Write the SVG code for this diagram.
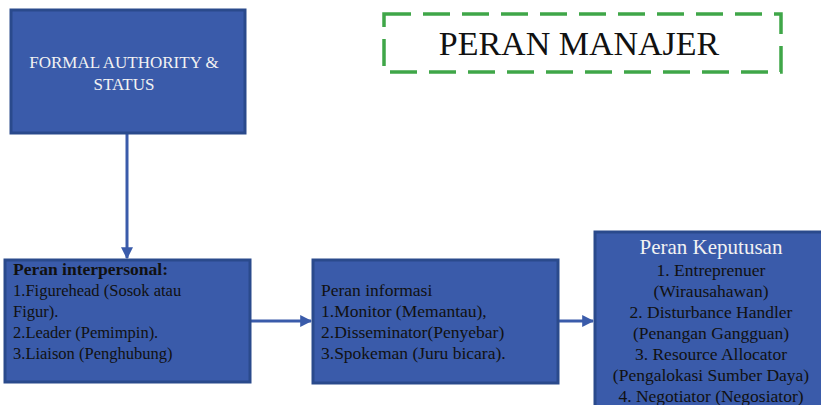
<svg xmlns="http://www.w3.org/2000/svg" width="821" height="405" viewBox="0 0 821 405">
<defs>
<style>
.box{fill:#3A5BAA;stroke:#2A4A8C;stroke-width:3}
.t{font-family:"Liberation Serif","Times New Roman",serif;font-size:16.5px;fill:#111}
.w{fill:#F2F2F2}
.c{text-anchor:middle}
.conn{stroke:#3A5BAA;stroke-width:3;fill:none}
</style>
<marker id="ah" viewBox="0 0 10 10" refX="9" refY="5" markerWidth="4" markerHeight="4" orient="auto" markerUnits="strokeWidth">
<path d="M0,0 L10,5 L0,10 z" fill="#3A5BAA"/>
</marker>
</defs>
<rect width="821" height="405" fill="#ffffff"/>
<g id="title">
<rect x="384" y="14" width="397" height="58" fill="none" stroke="#3FA648" stroke-width="3.5" stroke-dasharray="27 12"/>
<text x="579" y="55" font-family="'Liberation Serif','Times New Roman',serif" font-size="34" fill="#111" text-anchor="middle">PERAN MANAJER</text>
</g>
<g id="connectors">
<line class="conn" x1="127" y1="133" x2="127" y2="258" marker-end="url(#ah)"/>
<line class="conn" x1="250" y1="321" x2="311" y2="321" marker-end="url(#ah)"/>
<line class="conn" x1="558" y1="321" x2="593" y2="321" marker-end="url(#ah)"/>
</g>
<g id="formal">
<rect class="box" x="11" y="10" width="234" height="123"/>
<text class="t w c" x="124" y="68" style="font-size:17px">FORMAL AUTHORITY &amp;</text>
<text class="t w c" x="124" y="90" style="font-size:17px">STATUS</text>
</g>
<g id="interpersonal">
<rect class="box" x="5" y="260" width="245" height="122"/>
<text class="t" x="13" y="275" font-weight="bold" style="font-size:17.5px">Peran interpersonal:</text>
<text class="t" x="13" y="296">1.Figurehead (Sosok atau</text>
<text class="t" x="13" y="317">Figur).</text>
<text class="t" x="13" y="338">2.Leader (Pemimpin).</text>
<text class="t" x="13" y="359">3.Liaison (Penghubung)</text>
</g>
<g id="informasi">
<rect class="box" x="313" y="260" width="245" height="123"/>
<text class="t" x="321" y="296" style="font-size:17.5px">Peran informasi</text>
<text class="t" x="321" y="317" style="font-size:17.5px">1.Monitor (Memantau),</text>
<text class="t" x="321" y="338" style="font-size:17.5px">2.Disseminator(Penyebar)</text>
<text class="t" x="321" y="359" style="font-size:17.5px">3.Spokeman (Juru bicara).</text>
</g>
<g id="keputusan">
<rect class="box" x="595" y="232" width="240" height="190"/>
<text class="t w c" x="711" y="254" style="font-size:21px">Peran Keputusan</text>
<text class="t c" x="711" y="276" style="font-size:17.5px">1. Entreprenuer</text>
<text class="t c" x="711" y="297" style="font-size:17.5px">(Wirausahawan)</text>
<text class="t c" x="711" y="318" style="font-size:17.5px">2. Disturbance Handler</text>
<text class="t c" x="711" y="339" style="font-size:17.5px">(Penangan Gangguan)</text>
<text class="t c" x="711" y="360" style="font-size:17.5px">3. Resource Allocator</text>
<text class="t c" x="711" y="381" style="font-size:17.5px">(Pengalokasi Sumber Daya)</text>
<text class="t c" x="711" y="402" style="font-size:17.5px">4.  Negotiator (Negosiator)</text>
</g>
</svg>
